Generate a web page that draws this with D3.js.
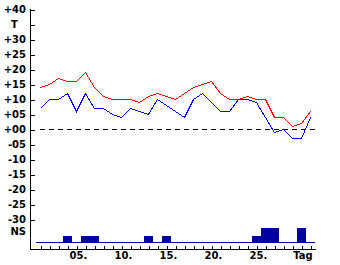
<!DOCTYPE html>
<html><head><meta charset="utf-8">
<script src="https://cdn.jsdelivr.net/npm/d3@7"></script>
<style>
html,body{margin:0;padding:0;background:#fff;}
svg{display:block;}
text{font-family:"DejaVu Sans",sans-serif;font-weight:bold;font-size:10px;fill:#000;}
</style></head>
<body>
<svg id="c" width="340" height="265"></svg>
<script>
// Data
const days = d3.range(1, 32);
const tMax = [14,15,17,16,16,19,14,11,10,10,10,9,11,12,11,10,12,14,15,16,12,10,10,11,10,10,4,4,1,2,6];
const tMin = [7,10,10,12,6,12,7,7,5,4,7,6,5,10,8,6,4,10,12,9,6,6,10,10,9,4,-1,0,-3,-3,4];
const precip = [0,0,0,1,0,1,1,0,0,0,0,0,1,0,1,0,0,0,0,0,0,0,0,0,1,2,2,0,0,2,0];
const yTicks = [40,35,30,25,20,15,10,5,0,-5,-10,-15,-20,-25,-30];
const xLabelDays = [5,10,15,20,25,30];
const xLabels = ["05.","10.","15.","20.","25.","Tag"];

const svg = d3.select("#c");
const x = d3.scaleLinear().domain([0, 31]).range([31, 310]);
const y = d3.scaleLinear().domain([-35, 40]).range([234.5, 9.5]);
const p = d3.scaleLinear().domain([0, 2]).range([243, 228]);

// zero dashed line
svg.append("line")
  .attr("x1", 40).attr("x2", 315)
  .attr("y1", y(0)).attr("y2", y(0))
  .attr("stroke", "#000").attr("stroke-width", 1)
  .attr("stroke-dasharray", "5,4")
  .attr("shape-rendering", "crispEdges");

// precipitation bars
svg.append("g").selectAll("rect")
  .data(days.filter((d, i) => precip[i] > 0))
  .join("rect")
  .attr("x", d => x(d) - 4)
  .attr("width", 9)
  .attr("y", d => p(precip[d - 1]))
  .attr("height", d => 243 - p(precip[d - 1]))
  .attr("fill", "#0000a0")
  .attr("shape-rendering", "crispEdges");

// precipitation baseline
svg.append("line")
  .attr("x1", x(0.5)).attr("x2", x(31.5))
  .attr("y1", 242.5).attr("y2", 242.5)
  .attr("stroke", "#0000a0").attr("stroke-width", 1)
  .attr("shape-rendering", "crispEdges");

// temperature lines
const line = d3.line().x((d, i) => x(days[i]) + 0.5).y(d => y(d));
svg.append("path").datum(tMax).attr("d", line)
  .attr("fill", "none").attr("stroke", "#ff0000").attr("stroke-width", 1)
  .attr("shape-rendering", "crispEdges");
svg.append("path").datum(tMin).attr("d", line)
  .attr("fill", "none").attr("stroke", "#0000ff").attr("stroke-width", 1)
  .attr("shape-rendering", "crispEdges");

// Y axis
const yAxis = d3.axisLeft(y)
  .tickValues(yTicks)
  .tickSizeInner(-4).tickSizeOuter(0).tickPadding(4)
  .tickFormat(v => v === 35 ? "T" : (v > 0 ? "+" : (v < 0 ? "-" : "+")) + String(Math.abs(v)).padStart(2, "0"));
const gy = svg.append("g").attr("transform", "translate(30.5,0)").call(yAxis);
gy.select(".domain").remove();
gy.selectAll(".tick line").attr("stroke", "#000").attr("shape-rendering", "crispEdges");
gy.selectAll(".tick text")
  .attr("fill", "#000")
  .style("font-family", "'DejaVu Sans',sans-serif").style("font-weight", "bold").style("font-size", "10px")
  .attr("text-anchor", d => d === 35 ? "middle" : "end")
  .attr("x", d => d === 35 ? -16 : -4.5);
svg.append("text").attr("x", 26).attr("y", 231).attr("dy", "0.35em")
  .attr("text-anchor", "end").text("NS");
svg.append("line").attr("x1", 30.5).attr("x2", 30.5).attr("y1", 9).attr("y2", 250)
  .attr("stroke", "#000").attr("shape-rendering", "crispEdges");

// X axis
const xAxis = d3.axisBottom(x)
  .tickValues(days)
  .tickSizeInner(-4).tickSizeOuter(0)
  .tickFormat(() => "");
const gx = svg.append("g").attr("transform", "translate(0.5,249.5)").call(xAxis);
gx.select(".domain").remove();
gx.selectAll(".tick line").attr("stroke", "#000").attr("shape-rendering", "crispEdges");
svg.append("line").attr("x1", 30).attr("x2", 316).attr("y1", 249.5).attr("y2", 249.5)
  .attr("stroke", "#000").attr("shape-rendering", "crispEdges");
svg.append("g").selectAll("text")
  .data(xLabelDays)
  .join("text")
  .attr("x", (d, i) => xLabels[i] === "Tag" ? x(d) + 2 : x(d) - 6.5)
  .attr("y", 259)
  .attr("text-anchor", (d, i) => xLabels[i] === "Tag" ? "middle" : "start")
  .text((d, i) => xLabels[i]);
</script>
</body></html>
